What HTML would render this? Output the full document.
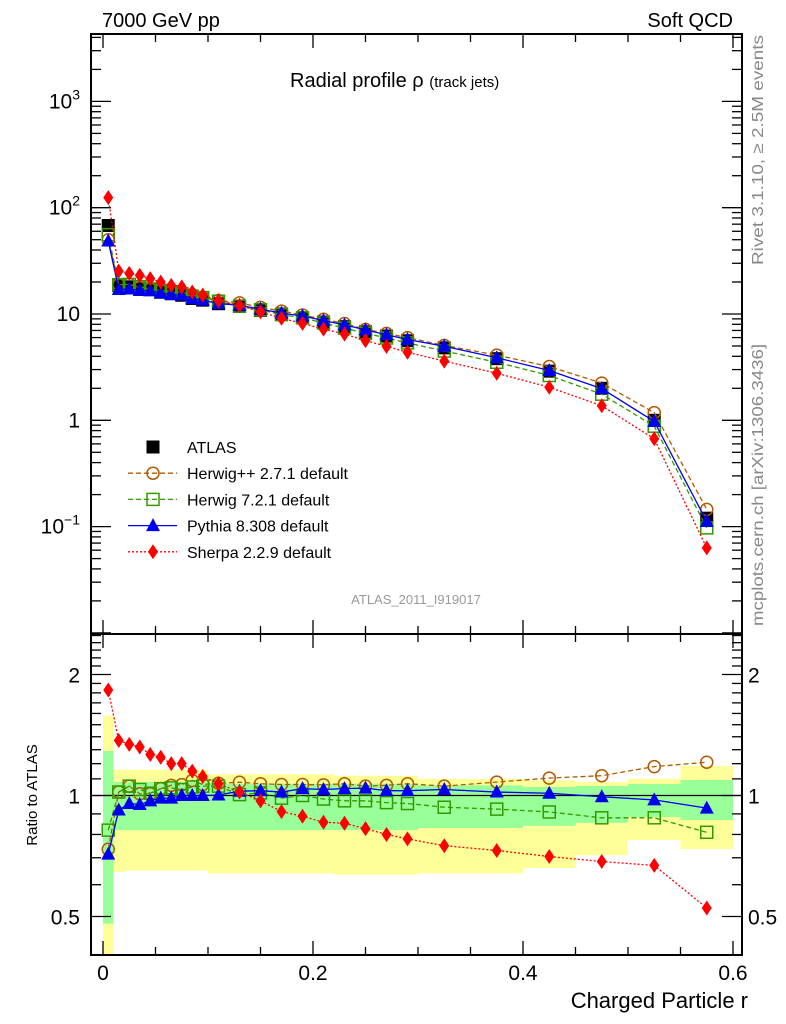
<!DOCTYPE html>
<html><head><meta charset="utf-8"><style>
body{margin:0;background:#fff;}
svg{display:block;font-family:"Liberation Sans",sans-serif;}
</style></head><body>
<svg id="c" width="786" height="1024" xmlns="http://www.w3.org/2000/svg">
<g id="bands"></g>
<g id="axes"></g>
<g id="series"></g>
<text x="102" y="27" font-size="20">7000 GeV pp</text>
<text x="733" y="27" font-size="20" text-anchor="end">Soft QCD</text>
<text x="290" y="87" font-size="20">Radial profile <tspan font-size="20">ρ</tspan> <tspan font-size="15">(track jets)</tspan></text>
<text x="416" y="604" font-size="13" fill="#999" text-anchor="middle">ATLAS_2011_I919017</text>
<text transform="translate(763,265) rotate(-90)" font-size="16" textLength="230" lengthAdjust="spacingAndGlyphs" fill="#888">Rivet 3.1.10, ≥ 2.5M events</text>
<text transform="translate(763,626) rotate(-90)" font-size="16" textLength="282" lengthAdjust="spacingAndGlyphs" fill="#888">mcplots.cern.ch [arXiv:1306.3436]</text>
<text transform="translate(37,795) rotate(-90)" font-size="15" text-anchor="middle">Ratio to ATLAS</text>
<text x="748" y="1008" font-size="22" text-anchor="end">Charged Particle r</text>
<g id="legend"></g>
</svg>
<script>
const binEdges=[0,0.01,0.02,0.03,0.04,0.05,0.06,0.07,0.08,0.09,0.1,0.12,0.14,0.16,0.18,0.2,0.22,0.24,0.26,0.28,0.3,0.35,0.4,0.45,0.5,0.55,0.6];
const atlas=[68,18.5,18,17.5,17,16,15.5,15,14,13.5,12.5,11.8,10.8,10,9.2,8.4,7.6,6.8,6.2,5.6,4.8,3.8,2.9,2.0,1.0,0.12];
const ratioHerwigPP=[0.735,1.02,1.055,1.01,1.01,1.04,1.06,1.064,1.09,1.065,1.073,1.079,1.07,1.065,1.065,1.063,1.07,1.055,1.06,1.07,1.055,1.08,1.105,1.12,1.18,1.21];
const ratioHerwig7=[0.82,1.02,1.055,1.035,1.013,1.04,1.045,1.035,1.05,1.055,1.055,1.005,1.015,0.985,1.0,0.98,0.97,0.97,0.96,0.955,0.935,0.925,0.91,0.88,0.88,0.81];
const ratioPythia=[0.715,0.92,0.955,0.95,0.97,0.985,0.985,1.0,1.0,1.0,1.003,1.025,1.028,1.02,1.04,1.035,1.04,1.043,1.028,1.028,1.035,1.02,1.013,0.993,0.975,0.93];
const ratioSherpa=[1.83,1.37,1.34,1.32,1.265,1.245,1.2,1.2,1.15,1.115,1.07,1.02,0.97,0.912,0.888,0.858,0.853,0.827,0.80,0.78,0.75,0.73,0.705,0.685,0.67,0.525];
const yellowLo=[0.38,0.645,0.65,0.65,0.65,0.65,0.65,0.65,0.65,0.65,0.64,0.64,0.64,0.64,0.64,0.64,0.635,0.635,0.635,0.635,0.64,0.64,0.66,0.71,0.775,0.736];
const yellowHi=[1.58,1.16,1.16,1.16,1.16,1.16,1.16,1.16,1.16,1.16,1.13,1.13,1.13,1.13,1.13,1.13,1.12,1.12,1.12,1.12,1.10,1.10,1.09,1.08,1.10,1.184];
const greenLo=[0.48,0.82,0.82,0.82,0.82,0.82,0.82,0.82,0.82,0.82,0.82,0.82,0.82,0.82,0.82,0.82,0.82,0.82,0.82,0.82,0.83,0.83,0.84,0.855,0.884,0.869];
const greenHi=[1.29,1.08,1.08,1.08,1.08,1.08,1.08,1.08,1.08,1.08,1.07,1.07,1.07,1.07,1.07,1.07,1.07,1.07,1.07,1.07,1.06,1.06,1.05,1.056,1.068,1.093];
const xTicks=[0,0.2,0.4,0.6];
const mainTickExp=[-1,0,1,2,3];
const ratioTicks=[0.5,1,2];

const NS="http://www.w3.org/2000/svg";
const L=91,R=742,T=34,MB=634,RT=634,RB=955;
const X=v=>103+v*1050;
const Y=v=>314-106.3*(Math.log10(v)-1);
const YR=v=>795.5-402*Math.log10(v);
function mk(p,t,a){const e=document.createElementNS(NS,t);for(const k in a)e.setAttribute(k,a[k]);p.appendChild(e);return e;}
const bands=document.getElementById('bands'),axes=document.getElementById('axes'),series=document.getElementById('series'),legend=document.getElementById('legend');
const centers=binEdges.slice(0,-1).map((e,i)=>(e+binEdges[i+1])/2);
const clampR=v=>Math.min(Math.max(v,0.401),2.5);

for(let i=0;i<centers.length;i++){
  const x0=X(binEdges[i]),x1=X(binEdges[i+1]);
  let r=mk(bands,'rect',{x:x0,y:YR(clampR(yellowHi[i])),width:x1-x0,height:YR(clampR(yellowLo[i]))-YR(clampR(yellowHi[i])),fill:'#ffff99'});
  
  
  let g=mk(bands,'rect',{x:x0,y:YR(greenHi[i]),width:x1-x0,height:YR(greenLo[i])-YR(greenHi[i]),fill:'#99ff99'});
  
  
}
mk(axes,'rect',{x:L,y:T,width:R-L,height:MB-T,fill:'none',stroke:'#000','stroke-width':2});
mk(axes,'rect',{x:L,y:RT,width:R-L,height:RB-RT,fill:'none',stroke:'#000','stroke-width':2});
mk(axes,'line',{x1:L,x2:R,y1:YR(1),y2:YR(1),stroke:'#000','stroke-width':1.3});
for(let k=0;k<=12;k++){const v=k*0.05,x=X(v),big=(k%4===0);const len=big?14:8;
  [[T,1],[MB,-1],[RT,1],[RB,-1]].forEach(([y,d])=>mk(axes,'line',{x1:x,x2:x,y1:y,y2:y+d*len,stroke:'#000','stroke-width':1.3}));}
xTicks.forEach(v=>{const t=mk(axes,'text',{x:X(v),y:980,'font-size':21,'text-anchor':'middle'});t.textContent=v===0?'0':v.toFixed(1);
  
  });
for(let e=-2;e<=3;e++){for(let m=1;m<=9;m++){const v=m*Math.pow(10,e),y=Y(v);if(y<T||y>MB)continue;const len=m===1?20:10;
  mk(axes,'line',{x1:L,x2:L+len,y1:y,y2:y,stroke:'#000','stroke-width':1.3});mk(axes,'line',{x1:R,x2:R-len,y1:y,y2:y,stroke:'#000','stroke-width':1.3});}}
mainTickExp.forEach(e=>{const y=Y(Math.pow(10,e));let t;
  if(e===0||e===1){t=mk(axes,'text',{x:80,y:y+7,'font-size':21,'text-anchor':'end'});t.textContent=e===0?'1':'10';}
  else{t=mk(axes,'text',{x:80,y:y+7,'font-size':21,'text-anchor':'end'});t.innerHTML='10<tspan dy="-9" font-size="14">'+e.toString().replace('-','−')+'</tspan>';}
  
  });
for(let k=4;k<=25;k++){const v=k/10,y=YR(v);if(y<RT||y>RB)continue;const big=(v===0.5||v===1||v===2);const len=big?20:10;
  mk(axes,'line',{x1:L,x2:L+len,y1:y,y2:y,stroke:'#000','stroke-width':1.3});mk(axes,'line',{x1:R,x2:R-len,y1:y,y2:y,stroke:'#000','stroke-width':1.3});}
ratioTicks.forEach(v=>{const y=YR(v)+8;
  const a=mk(axes,'text',{x:80,y:y,'font-size':21,'text-anchor':'end'});a.textContent=String(v);
  
  
  const b=mk(axes,'text',{x:748,y:y,'font-size':21});b.textContent=String(v);
  
  });

function marker(g,type,x,y,c){
  if(type==='circle')return mk(g,'circle',{cx:x,cy:y,r:6,fill:'none',stroke:c,'stroke-width':1.5});
  if(type==='square')return mk(g,'rect',{x:x-6,y:y-6,width:12,height:12,fill:'none',stroke:c,'stroke-width':1.5});
  if(type==='tri')return mk(g,'path',{d:`M${x},${y-7.5}L${x+7},${y+5.5}L${x-7},${y+5.5}Z`,fill:c});
  if(type==='diamond')return mk(g,'path',{d:`M${x},${y-7.5}L${x+5},${y}L${x},${y+7.5}L${x-5},${y}Z`,fill:c});
  if(type==='box')return mk(g,'rect',{x:x-6.5,y:y-6.5,width:13,height:13,fill:c});
}
const mcs=[
 {name:'herwigpp',ratio:ratioHerwigPP,c:'#b35900',type:'circle',dash:'5,3',label:'Herwig++ 2.7.1 default'},
 {name:'herwig7',ratio:ratioHerwig7,c:'#339900',type:'square',dash:'5,3',label:'Herwig 7.2.1 default'},
 {name:'pythia',ratio:ratioPythia,c:'#0000ee',type:'tri',dash:'',label:'Pythia 8.308 default'},
 {name:'sherpa',ratio:ratioSherpa,c:'#ff0000',type:'diamond',dash:'2,2',label:'Sherpa 2.2.9 default'}];
const ag=mk(series,'g',{});


mcs.forEach(s=>{
  const g=mk(series,'g',{});
  
  
  const main=centers.map((x,i)=>[X(x),Y(atlas[i]*s.ratio[i])]);
  const rat=centers.map((x,i)=>[X(x),YR(s.ratio[i])]);
  [main,rat].forEach(pts=>{
    const a={points:pts.map(p=>p.join(',')).join(' '),fill:'none',stroke:s.c,'stroke-width':1.3};if(s.dash)a['stroke-dasharray']=s.dash;
    mk(g,'polyline',a);
    pts.forEach(p=>{const m=marker(g,s.type,p[0],p[1],s.c);
      
      });
  });
});
centers.forEach((x,i)=>{const m=marker(ag,'box',X(x),Y(atlas[i]),'#000');
  
  });
const rows=[{label:'ATLAS',type:'box',c:'#000',dash:null}].concat(mcs);
rows.forEach((s,i)=>{const y=447+i*26.2;
  const g=mk(legend,'g',{});
  
  
  if(s.dash!==null){const a={x1:128,x2:177,y1:y,y2:y,stroke:s.c,'stroke-width':1.3};if(s.dash)a['stroke-dasharray']=s.dash;mk(g,'line',a);}
  marker(g,s.type,153,y,s.c);
  const t=mk(g,'text',{x:187,y:y+6,'font-size':16});t.textContent=s.label;});
</script>
</body></html>
